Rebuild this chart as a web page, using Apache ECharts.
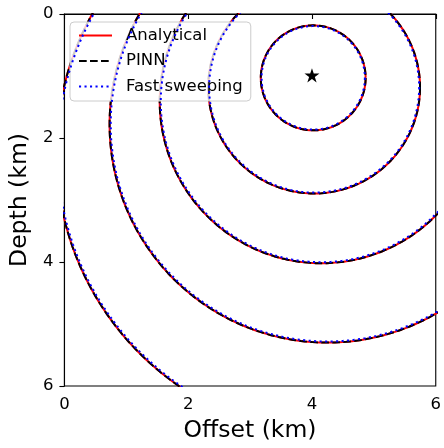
<!DOCTYPE html>
<html>
<head>
<meta charset="utf-8">
<script src="https://cdn.jsdelivr.net/npm/echarts@6/dist/echarts.min.js"></script>
<style>
  html, body { margin: 0; padding: 0; background: #fff; }
  #chart { width: 444px; height: 448px; }
</style>
</head>
<body>
<div id="chart"></div>
<script>
// Traveltime contours: each wavefront is a circle (centre offset, centre depth, radius), km.
const centerX = [4.02, 4.035, 4.15, 4.25, 4.45];
const centerZ = [1.03, 1.184, 1.41, 1.78, 2.23];
const radiusAnalytical = [0.847, 1.711, 2.61, 3.52, 4.58];
const radiusPINN = [0.847, 1.711, 2.61, 3.52, 4.58];
const radiusFastSweeping = [0.835, 1.697, 2.593, 3.502, 4.56];

// Source position (offset, depth), km
const source = [4, 1];

const xTicks = [0, 2, 4, 6];
const yTicks = [0, 2, 4, 6];

const FONT = 'DejaVu Sans';

// Trace every wavefront of one method as a single broken polyline.
function wavefronts(radii) {
  const pts = [];
  for (let i = 0; i < radii.length; i++) {
    for (let k = 0; k <= 720; k++) {
      const a = k * Math.PI / 360;
      pts.push([centerX[i] + radii[i] * Math.cos(a), centerZ[i] + radii[i] * Math.sin(a)]);
    }
    pts.push(['-', '-']);
  }
  return pts;
}

const starPath = 'path://M0,-100 L22.45,-30.9 L95.11,-30.9 L36.33,11.8 L58.78,80.9 L0,38.2 L-58.78,80.9 L-36.33,11.8 L-95.11,-30.9 L-22.45,-30.9 Z';

const chart = echarts.init(document.getElementById('chart'), null, { renderer: 'canvas' });

const axisCommon = {
  type: 'value',
  min: 0,
  max: 6,
  interval: 2,
  splitLine: { show: false },
  axisLine: { show: true, lineStyle: { color: '#000', width: 1.1 } },
  axisTick: { show: true, inside: false, length: 5, lineStyle: { color: '#000', width: 1.1 } },
  nameLocation: 'middle',
  nameTextStyle: { fontFamily: FONT, fontSize: 23.5, color: '#000' }
};

chart.setOption({
  animation: false,
  backgroundColor: '#fff',
  grid: {
    left: 62, right: 5, top: 14, bottom: 60,
    show: true, borderColor: '#000', borderWidth: 1.1, backgroundColor: 'transparent'
  },
  xAxis: Object.assign({}, axisCommon, {
    position: 'bottom',
    name: 'Offset (km)',
    nameGap: 33,
    axisLabel: {
      fontFamily: FONT, fontSize: 16.5, color: '#000', margin: 10,
      formatter: v => (xTicks.indexOf(v) >= 0 ? String(v) : '')
    }
  }),
  yAxis: Object.assign({}, axisCommon, {
    inverse: true,
    name: 'Depth (km)',
    nameGap: 30,
    axisLabel: {
      fontFamily: FONT, fontSize: 16.5, color: '#000', margin: 11,
      formatter: v => (yTicks.indexOf(v) >= 0 ? String(v) : '')
    }
  }),
  legend: {
    orient: 'vertical',
    left: 70,
    top: 22,
    padding: [5, 8, 6, 8],
    itemWidth: 33,
    itemHeight: 14,
    itemGap: 8.5,
    backgroundColor: 'rgba(255,255,255,0.8)',
    borderColor: '#cccccc',
    borderWidth: 1,
    borderRadius: 4,
    itemStyle: { opacity: 0 },
    lineStyle: { width: 2 },
    textStyle: { fontFamily: FONT, fontSize: 16.5, color: '#000', lineHeight: 17, padding: [0, 0, 0, 9] },
    data: ['Analytical', 'PINN', 'Fast sweeping']
  },
  series: [
    {
      name: 'Analytical',
      type: 'line',
      data: wavefronts(radiusAnalytical),
      showSymbol: false,
      symbol: 'none',
      connectNulls: false,
      clip: true,
      lineStyle: { color: '#ff0000', width: 2, type: 'solid' },
      itemStyle: { color: '#ff0000' },
      z: 2
    },
    {
      name: 'PINN',
      type: 'line',
      data: wavefronts(radiusPINN),
      showSymbol: false,
      symbol: 'none',
      connectNulls: false,
      clip: true,
      lineStyle: { color: '#000000', width: 2, type: [7.7, 3.3] },
      itemStyle: { color: '#000000' },
      z: 3
    },
    {
      name: 'Fast sweeping',
      type: 'line',
      data: wavefronts(radiusFastSweeping),
      showSymbol: false,
      symbol: 'none',
      connectNulls: false,
      clip: true,
      lineStyle: { color: '#0000ff', width: 2, type: [2.1, 3.4] },
      itemStyle: { color: '#0000ff' },
      z: 4
    },
    {
      name: 'Source',
      type: 'scatter',
      data: [source],
      symbol: starPath,
      symbolSize: [15, 14.3],
      symbolOffset: [0, -0.7],
      itemStyle: { color: '#000', opacity: 1 },
      z: 5
    }
  ]
});
</script>
</body>
</html>
